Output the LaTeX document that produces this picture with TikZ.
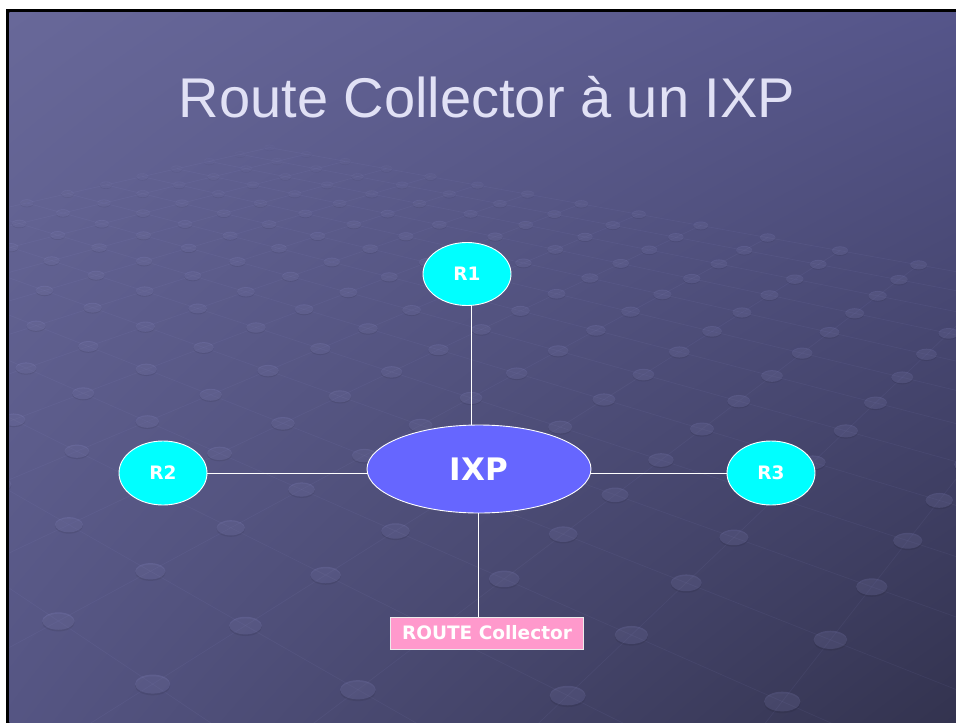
\documentclass[tikz,border=0pt]{standalone}
\usepackage{fontspec}
\setmainfont{Liberation Sans}
\newfontfamily\labelfont{DejaVu Sans}
\usetikzlibrary{shapes.geometric,shadings}

\definecolor{titlecol}{HTML}{E1E1F5}
\definecolor{routercol}{HTML}{00FFFF}
\definecolor{ixpcol}{HTML}{6666FF}
\definecolor{rccol}{HTML}{FF99CC}
\definecolor{studcol}{HTML}{A4A4E6}
\definecolor{bgUL}{HTML}{686899}
\definecolor{bgUR}{HTML}{55558A}
\definecolor{bgLL}{HTML}{555583}
\definecolor{bgLR}{HTML}{33334F}

\tikzset{
  router/.style={ellipse, draw=white, line width=0.9pt, fill=routercol,
    minimum width=88, minimum height=63, inner sep=0pt,
    text=white, font=\labelfont\bfseries\fontsize{18.5}{20}\selectfont},
  exchange/.style={ellipse, draw=white, line width=0.9pt, fill=ixpcol,
    minimum width=224, minimum height=88, inner sep=0pt,
    text=white, font=\labelfont\bfseries\fontsize{31}{34}\selectfont},
  collector/.style={rectangle, draw=white!85!gray, line width=0.6pt, fill=rccol,
    minimum width=193, minimum height=32, inner sep=0pt,
    text=white, font=\labelfont\bfseries\fontsize{18.5}{20}\selectfont},
  link/.style={draw=white, line width=1pt},
  gridline/.style={draw=studcol, draw opacity=0.07, line width=0.7pt},
}

% floor grid: point (u,v) maps to ((702+60.885u+76.68v)/w , (429+4.92u-6.21v)/w),
% with w = 1-0.0615u+0.054v
\begin{document}
\begin{tikzpicture}[x=1pt, y=-1pt]
  % page frame
  \useasboundingbox (0,0) rectangle (956,723);
  \fill[white] (0,0) rectangle (956,723);
  \fill[black] (6,9) rectangle (956,723);
  \shade[upper left=bgUL, upper right=bgUR, lower left=bgLL, lower right=bgLR]
    (9.3,12.3) rectangle (956,723);

  % perspective floor of studs, seen with two vanishing points
  \begin{scope}
    \clip (9.3,12.3) rectangle (956,723);
    % grid lines of constant u
    \foreach \u in {-12,...,8}{
      \pgfmathsetmacro\vlo{max(-16,(0.0615*\u-0.55)/0.054)}
      \pgfmathsetmacro\wa{1-0.0615*\u+0.054*\vlo}
      \pgfmathsetmacro\xa{(702+60.885*\u+76.68*\vlo)/\wa}
      \pgfmathsetmacro\ya{(429+4.92*\u-6.21*\vlo)/\wa}
      \pgfmathsetmacro\wb{1-0.0615*\u+0.054*8}
      \pgfmathsetmacro\xb{(702+60.885*\u+76.68*8)/\wb}
      \pgfmathsetmacro\yb{(429+4.92*\u-6.21*8)/\wb}
      \draw[gridline] (\xa,\ya) -- (\xb,\yb);
    }
    % grid lines of constant v
    \foreach \v in {-16,...,8}{
      \pgfmathsetmacro\uhi{min(8,(0.55+0.054*\v)/0.0615)}
      \pgfmathsetmacro\wa{1+0.0615*12+0.054*\v}
      \pgfmathsetmacro\xa{(702-60.885*12+76.68*\v)/\wa}
      \pgfmathsetmacro\ya{(429-4.92*12-6.21*\v)/\wa}
      \pgfmathsetmacro\wb{1-0.0615*\uhi+0.054*\v}
      \pgfmathtruncatemacro\okb{\uhi>-12}
      \ifnum\okb=1
        \pgfmathsetmacro\xb{(702+60.885*\uhi+76.68*\v)/\wb}
        \pgfmathsetmacro\yb{(429+4.92*\uhi-6.21*\v)/\wb}
        \draw[gridline] (\xa,\ya) -- (\xb,\yb);
      \fi
    }
    % studs
    \foreach \u in {-12,...,8}{
      \foreach \v in {-16,...,8}{
        \pgfmathsetmacro\w{1-0.0615*\u+0.054*\v}
        \pgfmathtruncatemacro\okw{\w>0.45}
        \ifnum\okw=1
          \pgfmathsetmacro\px{(702+60.885*\u+76.68*\v)/\w}
          \pgfmathsetmacro\py{(429+4.92*\u-6.21*\v)/\w}
          \pgfmathtruncatemacro\ok{and(and(\px>-60,\px<1020),and(\py>100,\py<780))}
          \ifnum\ok=1
            \pgfmathsetmacro\op{0.16*max(0,min(1,(2.5-\w)/0.9))}
            \fill[black, fill opacity=0.5*\op] (\px,\py+1.2/\w) ellipse ({12/\w} and {6.5/\w});
            \fill[studcol, fill opacity=\op] (\px,\py) ellipse ({12/\w} and {6.5/\w});
          \fi
        \fi
      }
    }
  \end{scope}

  % title
  \node[text=titlecol, font=\fontsize{56}{60}\selectfont, anchor=base]
    (title) at (487,117) {Route Collector à un IXP};

  % network
  \node[exchange] (ixp) at (479,469) {IXP};
  \node[router] (r1) at (467,274) {R1};
  \node[router, minimum height=64] (r2) at (163,473) {R2};
  \node[router, minimum height=64] (r3) at (771,473) {R3};
  \node[collector] (rc) at (487,633) {ROUTE Collector};

  \draw[link] ([xshift=4pt]r1.south) -- ([xshift=4pt]r1.south |- ixp.north);
  \draw[link] (r2.east) -- (r2.east -| ixp.west);
  \draw[link] (r3.west) -- (r3.west -| ixp.east);
  \draw[link] ([xshift=-0.5pt]ixp.south) -- ([xshift=-0.5pt]ixp.south |- rc.north);
\end{tikzpicture}
\end{document}
